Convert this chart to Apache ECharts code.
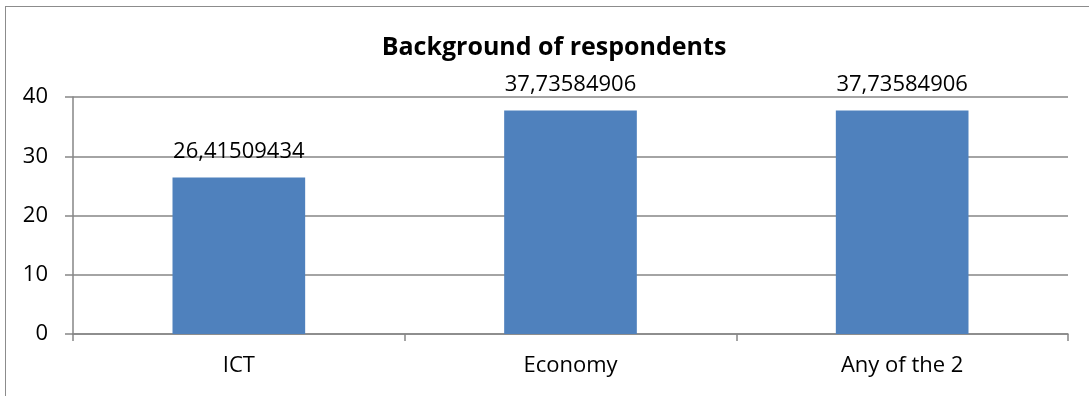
<!DOCTYPE html>
<html>
<head>
<meta charset="utf-8">
<script src="https://cdn.jsdelivr.net/npm/echarts@6/dist/echarts.min.js"></script>
<style>
  html, body { margin: 0; padding: 0; background: #fff; }
  #wrap { position: relative; width: 1089px; height: 396px; overflow: hidden; }
  #frame { position: absolute; left: 5px; top: 6px; width: 1200px; height: 500px;
           border: 1px solid #8c8c8c; box-sizing: border-box; }
  #chart { position: absolute; left: 0; top: 0; width: 1089px; height: 396px; }
</style>
</head>
<body>
<div id="wrap">
  <div id="frame"></div>
  <div id="chart"></div>
</div>
<script>
// Share of respondents by background (percent)
const categories = ['ICT', 'Economy', 'Any of the 2'];
const shares = [26.41509434, 37.73584906, 37.73584906];
const yTicks = [0, 10, 20, 30, 40];

const font = '"Open Sans", "Noto Sans", sans-serif';
const grey = '#868686';

const chart = echarts.init(document.getElementById('chart'), null, { renderer: 'canvas' });
chart.setOption({
  animation: false,
  title: {
    text: 'Background of respondents',
    left: 549, top: 30, textAlign: 'center',
    textStyle: { fontFamily: font, fontSize: 25, fontWeight: 'bold', color: '#000' }
  },
  grid: { left: 73, right: 21, top: 97, bottom: 62, containLabel: false },
  xAxis: {
    type: 'category',
    data: categories,
    axisLine: { lineStyle: { color: grey, width: 1.5 } },
    axisTick: { show: true, alignWithLabel: false, length: 7, lineStyle: { color: grey, width: 1.5 } },
    axisLabel: { color: '#000', fontFamily: font, fontSize: 22, margin: 21 }
  },
  yAxis: {
    type: 'value',
    min: yTicks[0], max: yTicks[yTicks.length - 1], interval: 10,
    axisLine: { show: true, lineStyle: { color: grey, width: 1.5 } },
    axisTick: { show: true, length: 8, lineStyle: { color: grey, width: 1.5 } },
    axisLabel: { color: '#000', fontFamily: font, fontSize: 22, margin: 25 },
    splitLine: { lineStyle: { color: grey, width: 1.5 } }
  },
  series: [{
    type: 'bar',
    data: shares,
    barWidth: '40%',
    itemStyle: { color: '#4F81BD' },
    label: {
      show: true, position: 'top', distance: 15,
      color: '#000', fontFamily: font, fontSize: 22,
      formatter: p => String(p.value).replace('.', ',')
    }
  }]
});
</script>
</body>
</html>
